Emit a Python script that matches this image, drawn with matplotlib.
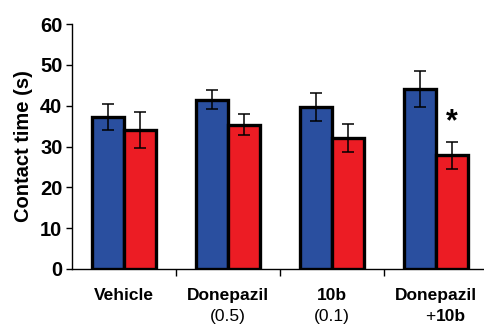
import numpy as np
import matplotlib
matplotlib.use("Agg")
import matplotlib.pyplot as plt
from matplotlib.transforms import blended_transform_factory

plt.rcParams['font.family'] = ['Liberation Sans', 'DejaVu Sans']

groups = ["Vehicle", "Donepazil", "10b", "Donepazil"]
doses = ["", "(0.5)", "(0.1)", "+"]
blue_mean = [37.3, 41.5, 39.7, 44.2]
blue_err = [3.2, 2.3, 3.4, 4.4]
red_mean = [34.0, 35.4, 32.1, 27.9]
red_err = [4.4, 2.5, 3.4, 3.3]
star_group = 3

blue = "#2a4f9f"
red = "#ec1c24"

fig = plt.figure(figsize=(4.84, 3.26), dpi=100)
ax = fig.add_axes([0.149, 0.175, 0.851, 0.751])

x = np.arange(len(groups))
w = 0.31
kw = dict(edgecolor="black", linewidth=2.4, capsize=4,
          error_kw=dict(elinewidth=1.1, capthick=1.1, ecolor="black"))
ax.bar(x - w / 2, blue_mean, w, yerr=blue_err, color=blue, **kw)
ax.bar(x + w / 2, red_mean, w, yerr=red_err, color=red, **kw)

ax.text(x[star_group] + w / 2, red_mean[star_group] + red_err[star_group] + 4.8,
        "*", ha="center", va="center", fontsize=22, fontweight="bold")

ax.set_xlim(-0.5, 3.46)
ax.set_ylim(0, 60)
ax.set_yticks(np.arange(0, 61, 10))
ax.set_xticks(x[:-1] + 0.5)
ax.set_xticklabels([])
ax.tick_params(axis="y", labelsize=14.5, width=1.0, length=4, pad=3)
ax.tick_params(axis="x", width=1.0, length=5)
for lab in ax.get_yticklabels():
    lab.set_fontweight("bold")
ax.set_ylabel("Contact time (s)", fontsize=14.5, fontweight="bold", labelpad=5)
ax.spines["top"].set_visible(False)
ax.spines["right"].set_visible(False)
ax.spines["left"].set_linewidth(1.0)
ax.spines["bottom"].set_linewidth(1.0)

tr = blended_transform_factory(ax.transData, ax.transAxes)
for i, (g, d) in enumerate(zip(groups, doses)):
    ax.text(i, -0.11, g, transform=tr, ha="center", va="center",
            fontsize=12.5, fontweight="bold")
    if d == "+":
        ax.text(i - 0.06, -0.195, "+", transform=tr, ha="center", va="center",
                fontsize=12.5)
        ax.text(i + 0.0, -0.195, "10b", transform=tr, ha="left", va="center",
                fontsize=12.5, fontweight="bold")
    elif d:
        ax.text(i, -0.195, d, transform=tr, ha="center", va="center",
                fontsize=12.5)

fig.savefig("out.png", dpi=100)
